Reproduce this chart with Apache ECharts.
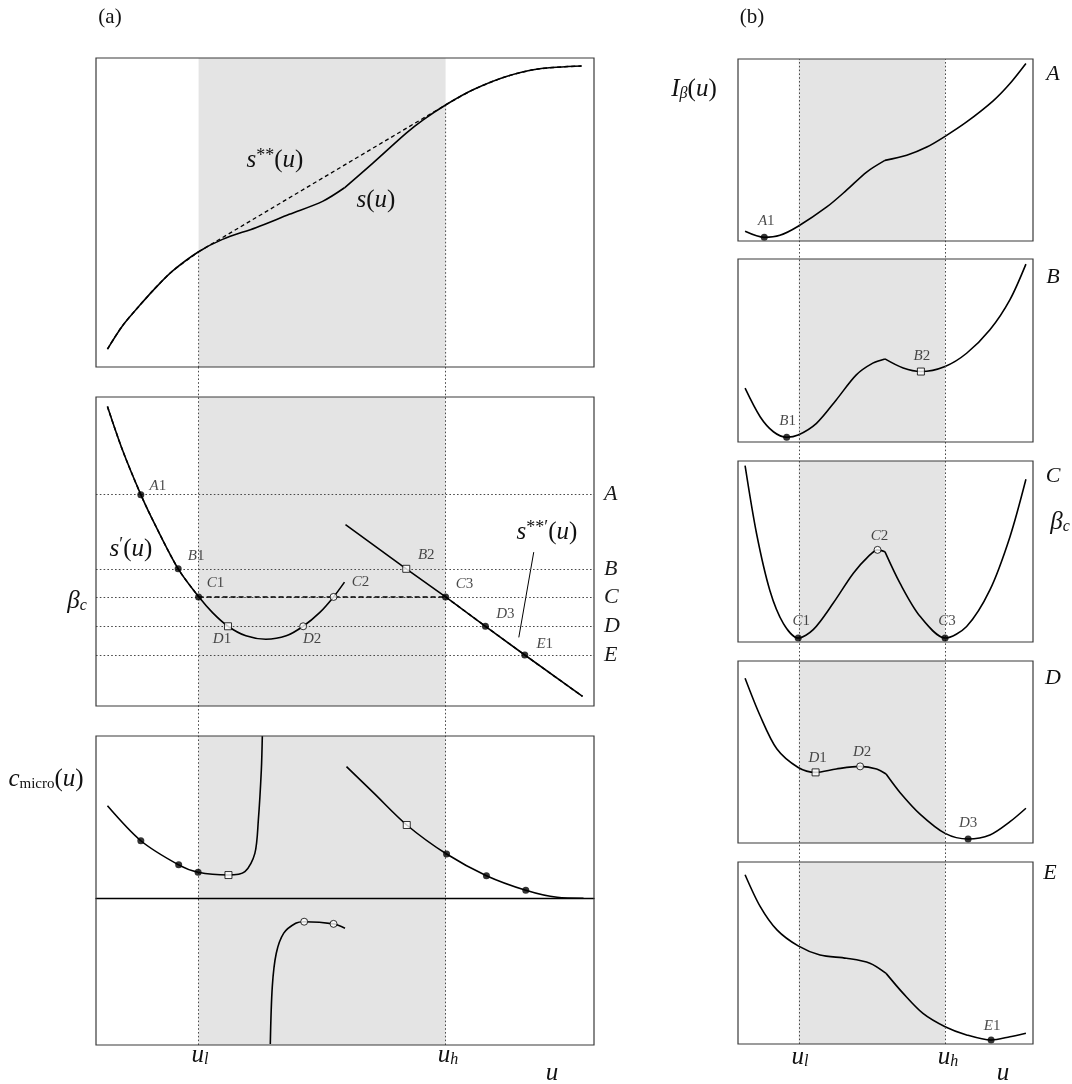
<!DOCTYPE html>
<html><head><meta charset="utf-8">
<script src="https://cdn.jsdelivr.net/npm/echarts@6/dist/echarts.min.js"></script>
<style>html,body{margin:0;padding:0;background:#fff}#c{width:1072px;height:1084px}</style>
</head><body><div id="c"></div>
<script>
// ---------- data (u in arbitrary units 0..10, values in panel units) ----------
const uL = 2.06, uH = 7.02;
const xTickLabels = ['u_l', 'u_h'];

// (a) top: entropy s(u)
const sU = [0.23,0.53,0.87,1.20,1.54,2.06,2.54,3.21,3.88,4.55,4.99,5.56,6.23,6.57,7.02,7.57,8.24,8.91,9.75];
const sV = [5.8,13.3,19.8,25.7,31.1,37.3,41.3,45.1,49.4,53.6,58.0,66.0,75.7,80.0,84.8,89.7,94.0,96.5,97.4];
const sKink = 4.99;

// (a) middle: s'(u)
const spU1 = [0.23,0.53,0.90,1.20,1.65,2.06,2.34,2.65,3.01,3.41,3.82,4.16,4.49,4.77,4.99];
const spV1 = [96.9,82.9,68.4,58.2,44.4,35.4,30.2,25.8,22.7,21.6,22.7,25.8,30.2,35.3,40.1];
const spU2 = [5.01,6.23,7.02,7.82,8.61,9.77];
const spV2 = [58.7,44.4,35.3,25.8,16.5,3.1];
const levelNames = ['A','B','C','D','E'];
const levelValues = [68.4,44.4,35.3,25.8,16.5];
const pointerU = [8.79,8.49];
const pointerV = [49.8,22.2];
const a2Names = ['A1','B1','C1','D1','D2','C2','B2','C3','D3','E1'];
const a2U     = [0.90,1.65,2.06,2.65,4.16,4.77,6.23,7.02,7.82,8.61];
const a2V     = [68.4,44.4,35.3,25.8,25.8,35.3,44.4,35.3,25.8,16.5];
const a2Kind  = ['f','f','f','s','o','o','s','f','f','f'];

// (a) bottom: c_micro(u)
const cU1 = [0.23,0.90,1.66,2.05,2.66,2.99,3.19,3.26,3.32,3.34];
const cV1 = [29.9,18.6,10.8,8.4,7.5,8.6,14.5,25.3,41.5,52.5];
const cU2 = [3.50,3.54,3.62,3.77,4.01,4.18,4.77,5.00];
const cV2 = [-47.2,-28.6,-17.8,-11.3,-8.1,-7.6,-8.3,-9.7];
const cU3 = [5.03,5.58,6.24,7.04,7.84,8.63,9.26,9.79];
const cV3 = [42.6,34.0,23.7,14.3,7.3,2.6,0.3,0];
const a3U    = [0.90,1.66,2.05,2.66,4.18,4.77,6.24,7.04,7.84,8.63];
const a3V    = [18.6,10.8,8.4,7.5,-7.6,-8.3,23.7,14.3,7.3,2.6];
const a3Kind = ['f','f','f','s','o','o','s','f','f','f'];

// (b) I_beta(u) for A..E
const iKink = 4.98;
const iAU = [0.24,0.89,1.42,2.04,3.01,3.68,4.36,4.98,5.72,6.40,7.02,7.75,8.65,9.22,9.76];
const iAV = [5.3,2.0,3.1,8.1,18.7,27.9,37.9,44.3,47.1,51.6,57.5,65.4,77.0,86.5,97.5];
const iBU = [0.24,0.75,1.20,1.65,2.04,2.66,3.33,4.01,4.57,4.98,5.60,6.20,7.02,7.75,8.54,9.22,9.76];
const iBV = [29.4,13.8,5.6,2.6,3.8,10.2,23.0,36.7,43.1,45.4,40.4,38.5,41.3,48.5,61.3,77.8,97.2];
const iCU = [0.24,0.63,1.08,1.54,2.04,2.55,3.23,3.91,4.47,4.73,4.98,5.49,6.17,7.02,7.75,8.54,9.22,9.76];
const iCV = [97.4,59.8,28.5,10.2,2.2,6.8,21.5,38.0,48.1,50.9,49.9,32.5,14.2,2.2,8.6,28.8,58.2,89.9];
const iDU = [0.24,0.75,1.32,2.04,2.63,3.33,4.14,4.70,5.02,5.49,6.17,7.02,7.80,8.54,9.22,9.76];
const iDV = [90.5,69.9,51.6,41.5,38.8,40.7,42.1,40.7,37.9,27.8,15.9,5.3,2.2,4.4,11.7,19.1];
const iEU = [0.24,0.75,1.32,2.04,2.78,3.68,4.47,5.02,5.60,6.27,7.02,7.75,8.58,9.22,9.76];
const iEV = [93.0,75.6,62.7,53.9,48.9,47.1,44.4,38.8,27.8,16.8,9.5,5.0,2.2,4.0,5.9];
const bNames = [['A1'],['B1','B2'],['C1','C2','C3'],['D1','D2','D3'],['E1']];
const bU     = [[0.89],[1.65,6.20],[2.04,4.73,7.02],[2.63,4.14,7.80],[8.58]];
const bV     = [[2.0],[2.6,38.5],[2.2,50.9,2.2],[38.8,42.1,2.2],[2.2]];
const bKind  = [['f'],['f','s'],['f','o','f'],['s','o','f'],['f']];

// ---------- helpers ----------
const zip = (us, vs) => us.map((u, i) => [u, vs[i]]);
const serif = 'Liberation Serif';
const rich = {
  i:   {fontFamily: serif, fontStyle: 'italic', fontSize: 25, color: '#111'},
  n:   {fontFamily: serif, fontSize: 25, color: '#111'},
  a:   {fontFamily: serif, fontSize: 21, color: '#111'},
  sup: {fontFamily: serif, fontSize: 18, color: '#111', verticalAlign: 'top'},
  sub: {fontFamily: serif, fontSize: 15, color: '#111', verticalAlign: 'bottom'},
  subi:{fontFamily: serif, fontSize: 16, fontStyle: 'italic', color: '#111', verticalAlign: 'bottom'},
  pi:  {fontFamily: serif, fontStyle: 'italic', fontSize: 15, color: '#1a1a1a'},
  pn:  {fontFamily: serif, fontSize: 15, color: '#1a1a1a'},
  L:   {fontFamily: serif, fontStyle: 'italic', fontSize: 22, color: '#1a1a1a'}
};

const grids = [
  {left: 96,  top: 58,  width: 498, height: 309},  // 0 a1
  {left: 96,  top: 397, width: 498, height: 309},  // 1 a2
  {left: 96,  top: 736, width: 498, height: 309},  // 2 a3
  {left: 738, top: 59,  width: 295, height: 182},  // 3 A
  {left: 738, top: 259, width: 295, height: 183},  // 4 B
  {left: 738, top: 461, width: 295, height: 181},  // 5 C
  {left: 738, top: 661, width: 295, height: 182},  // 6 D
  {left: 738, top: 862, width: 295, height: 182},  // 7 E
  {left: 96,  top: 367, width: 498, height: 678},  // 8 overlay left
  {left: 738, top: 59,  width: 295, height: 985}   // 9 overlay right
].map((g, i) => Object.assign({show: i < 8, borderColor: '#3a3a3a', borderWidth: 1.2, backgroundColor: 'transparent', z: 10}, g));

const xAxes = grids.map((g, i) => ({type: 'value', gridIndex: i, min: 0, max: 10, show: false}));
const yAxes = grids.map((g, i) => ({type: 'value', gridIndex: i, min: 0, max: (i >= 8 ? 1 : 100), show: false}));
yAxes[2].min = -47.5; yAxes[2].max = 52.5;
xAxes[2] = {type: 'value', gridIndex: 2, min: 0, max: 10, show: true, z: 8,
  axisLine: {show: true, onZero: true, lineStyle: {color: '#000', width: 1.3}},
  axisTick: {show: false}, axisLabel: {show: false}, splitLine: {show: false}};

const series = [];
const dotted = {color: '#4a4a4a', width: 1, type: [1.6, 2.2]};

function band(gi) {
  series.push({type: 'line', xAxisIndex: gi, yAxisIndex: gi, data: [], silent: true, z: 1,
    markArea: {silent: true, itemStyle: {color: '#e4e4e4'}, data: [[{xAxis: uL}, {xAxis: uH}]]}});
}
function curve(gi, pts, extra) {
  series.push(Object.assign({type: 'line', xAxisIndex: gi, yAxisIndex: gi, data: pts, showSymbol: false,
    smooth: 0.3, silent: true, z: 4,
    lineStyle: {color: '#000', width: 1.6}}, extra || {}));
}
function splitCurve(gi, pts, k) {
  let idx = 0;
  pts.forEach((p, i) => { if (Math.abs(p[0] - k) < Math.abs(pts[idx][0] - k)) idx = i; });
  curve(gi, pts.slice(0, idx + 1));
  curve(gi, pts.slice(idx));
}
const labelOffsets = {
  'a2A1': [17, -9], 'a2B1': [18, -13], 'a2C1': [17, -14], 'a2C2': [27, -15], 'a2D1': [-6, 13],
  'a2D2': [9, 13], 'a2B2': [20, -14], 'a2C3': [19, -13], 'a2D3': [20, -12], 'a2E1': [20, -11],
  'bA1': [2, -16], 'bB1': [1, -16], 'bB2': [1, -15], 'bC1': [3, -17], 'bC2': [2, -14], 'bC3': [2, -17],
  'bD1': [2, -14], 'bD2': [2, -14], 'bD3': [0, -16], 'bE1': [1, -14]
};
function markers(gi, names, us, vs, kinds, prefix, withLabels) {
  series.push({type: 'scatter', xAxisIndex: gi, yAxisIndex: gi, silent: true, z: 6,
    data: us.map((u, i) => {
      const k = kinds[i];
      const item = {value: [u, vs[i]], name: names ? names[i] : '',
        symbol: k === 's' ? 'rect' : 'circle',
        symbolSize: 7,
        itemStyle: {color: k === 'f' ? '#000' : '#fff', borderColor: '#000', borderWidth: k === 'f' ? 0 : 1}};
      if (withLabels) {
        const nm = names[i];
        item.label = {show: true, position: 'inside', offset: labelOffsets[prefix + nm] || [0, -14],
          formatter: '{pi|' + nm[0] + '}{pn|' + nm.slice(1) + '}', rich: rich};
      }
      return item;
    })});
}

// ---- panel a1 ----
band(0);
const sPts = zip(sU, sV);
splitCurve(0, sPts, sKink);
const sAt = u => sV[sU.indexOf(u)];
const dashed = {color: '#000', width: 1.5, type: [4, 3]};
curve(0, sPts.filter(p => p[0] <= uL), {lineStyle: dashed, z: 5});
curve(0, [[uL, sAt(uL)], [uH, sAt(uH)]], {smooth: false, lineStyle: {color: '#000', width: 1.3, type: [4, 3]}, z: 5});
curve(0, sPts.filter(p => p[0] >= uH), {lineStyle: dashed, z: 5});
curve(0, [[uL, sAt(uL)], [uL, 0]], {smooth: false, lineStyle: dotted, z: 3});
curve(0, [[uH, sAt(uH)], [uH, 0]], {smooth: false, lineStyle: dotted, z: 3});

// ---- panel a2 ----
band(1);
series.push({type: 'line', xAxisIndex: 1, yAxisIndex: 1, data: [], silent: true, z: 2,
  markLine: {silent: true, symbol: 'none', lineStyle: dotted,
    label: {show: true, position: 'end', distance: 10, formatter: p => '{L|' + p.name + '}', rich: rich},
    data: levelNames.map((n, i) => ({name: n, yAxis: levelValues[i]}))}});
const sp1 = zip(spU1, spV1), sp2 = zip(spU2, spV2);
curve(1, sp1);
curve(1, sp2, {smooth: false});
const cLevel = levelValues[2];
curve(1, sp1.filter(p => p[0] <= uL), {lineStyle: dashed, z: 5});
curve(1, [[uL, cLevel], [uH, cLevel]], {smooth: false, lineStyle: {color: '#000', width: 1.5, type: [5, 3]}, z: 5});
curve(1, sp2.filter(p => p[0] >= uH), {smooth: false, lineStyle: dashed, z: 5});
curve(1, zip(pointerU, pointerV), {smooth: false, lineStyle: {color: '#000', width: 1}});
markers(1, a2Names, a2U, a2V, a2Kind, 'a2', true);

// ---- panel a3 ----
band(2);
curve(2, zip(cU1, cV1));
curve(2, zip(cU2, cV2));
curve(2, zip(cU3, cV3));
markers(2, null, a3U, a3V, a3Kind, 'a3', false);

// ---- panels (b) ----
const bData = [[iAU, iAV], [iBU, iBV], [iCU, iCV], [iDU, iDV], [iEU, iEV]];
bData.forEach((d, k) => {
  const gi = 3 + k;
  band(gi);
  splitCurve(gi, zip(d[0], d[1]), iKink);
  markers(gi, bNames[k], bU[k], bV[k], bKind[k], 'b', true);
});

// ---- overlay verticals ----
[8, 9].forEach(gi => {
  series.push({type: 'line', xAxisIndex: gi, yAxisIndex: gi, data: [], silent: true, z: 3,
    markLine: {silent: true, symbol: 'none', label: {show: false}, lineStyle: dotted,
      data: [{xAxis: uL}, {xAxis: uH}]}});
});

// ---------- text ----------
function txt(x, y, text, align) {
  return {type: 'text', x: x, y: y, silent: true, z: 20,
    style: {text: text, rich: rich, textAlign: align || 'center', textVerticalAlign: 'middle', fill: '#111',
      font: '22px "Liberation Serif"'}};
}
const uTick = s => '{i|u}{subi|' + s.split('_')[1] + '}';
const graphic = [
  txt(110, 17, '{a|(a)}'),
  txt(752, 17, '{a|(b)}'),
  txt(275, 160, '{i|s}{sup|**}{n|(}{i|u}{n|)}'),
  txt(376, 200, '{i|s}{n|(}{i|u}{n|)}'),
  txt(131, 549, '{i|s}{sup|′}{n|(}{i|u}{n|)}'),
  txt(547, 532, '{i|s}{sup|**′}{n|(}{i|u}{n|)}'),
  txt(77, 601, '{i|β}{subi|c}'),
  txt(46, 779, '{i|c}{sub|micro}{n|(}{i|u}{n|)}'),
  txt(694, 89, '{i|I}{subi|β}{n|(}{i|u}{n|)}'),
  txt(200, 1055, uTick(xTickLabels[0])),
  txt(448, 1055, uTick(xTickLabels[1])),
  txt(552, 1073, '{i|u}'),
  txt(800, 1057, uTick(xTickLabels[0])),
  txt(948, 1057, uTick(xTickLabels[1])),
  txt(1003, 1073, '{i|u}'),
  txt(1053, 74, '{L|A}'),
  txt(1053, 277, '{L|B}'),
  txt(1053, 476, '{L|C}'),
  txt(1060, 522, '{i|β}{subi|c}'),
  txt(1053, 678, '{L|D}'),
  txt(1050, 873, '{L|E}')
];

const chart = echarts.init(document.getElementById('c'), null, {renderer: 'canvas'});
chart.setOption({animation: false, grid: grids, xAxis: xAxes, yAxis: yAxes, series: series, graphic: graphic});
</script></body></html>
